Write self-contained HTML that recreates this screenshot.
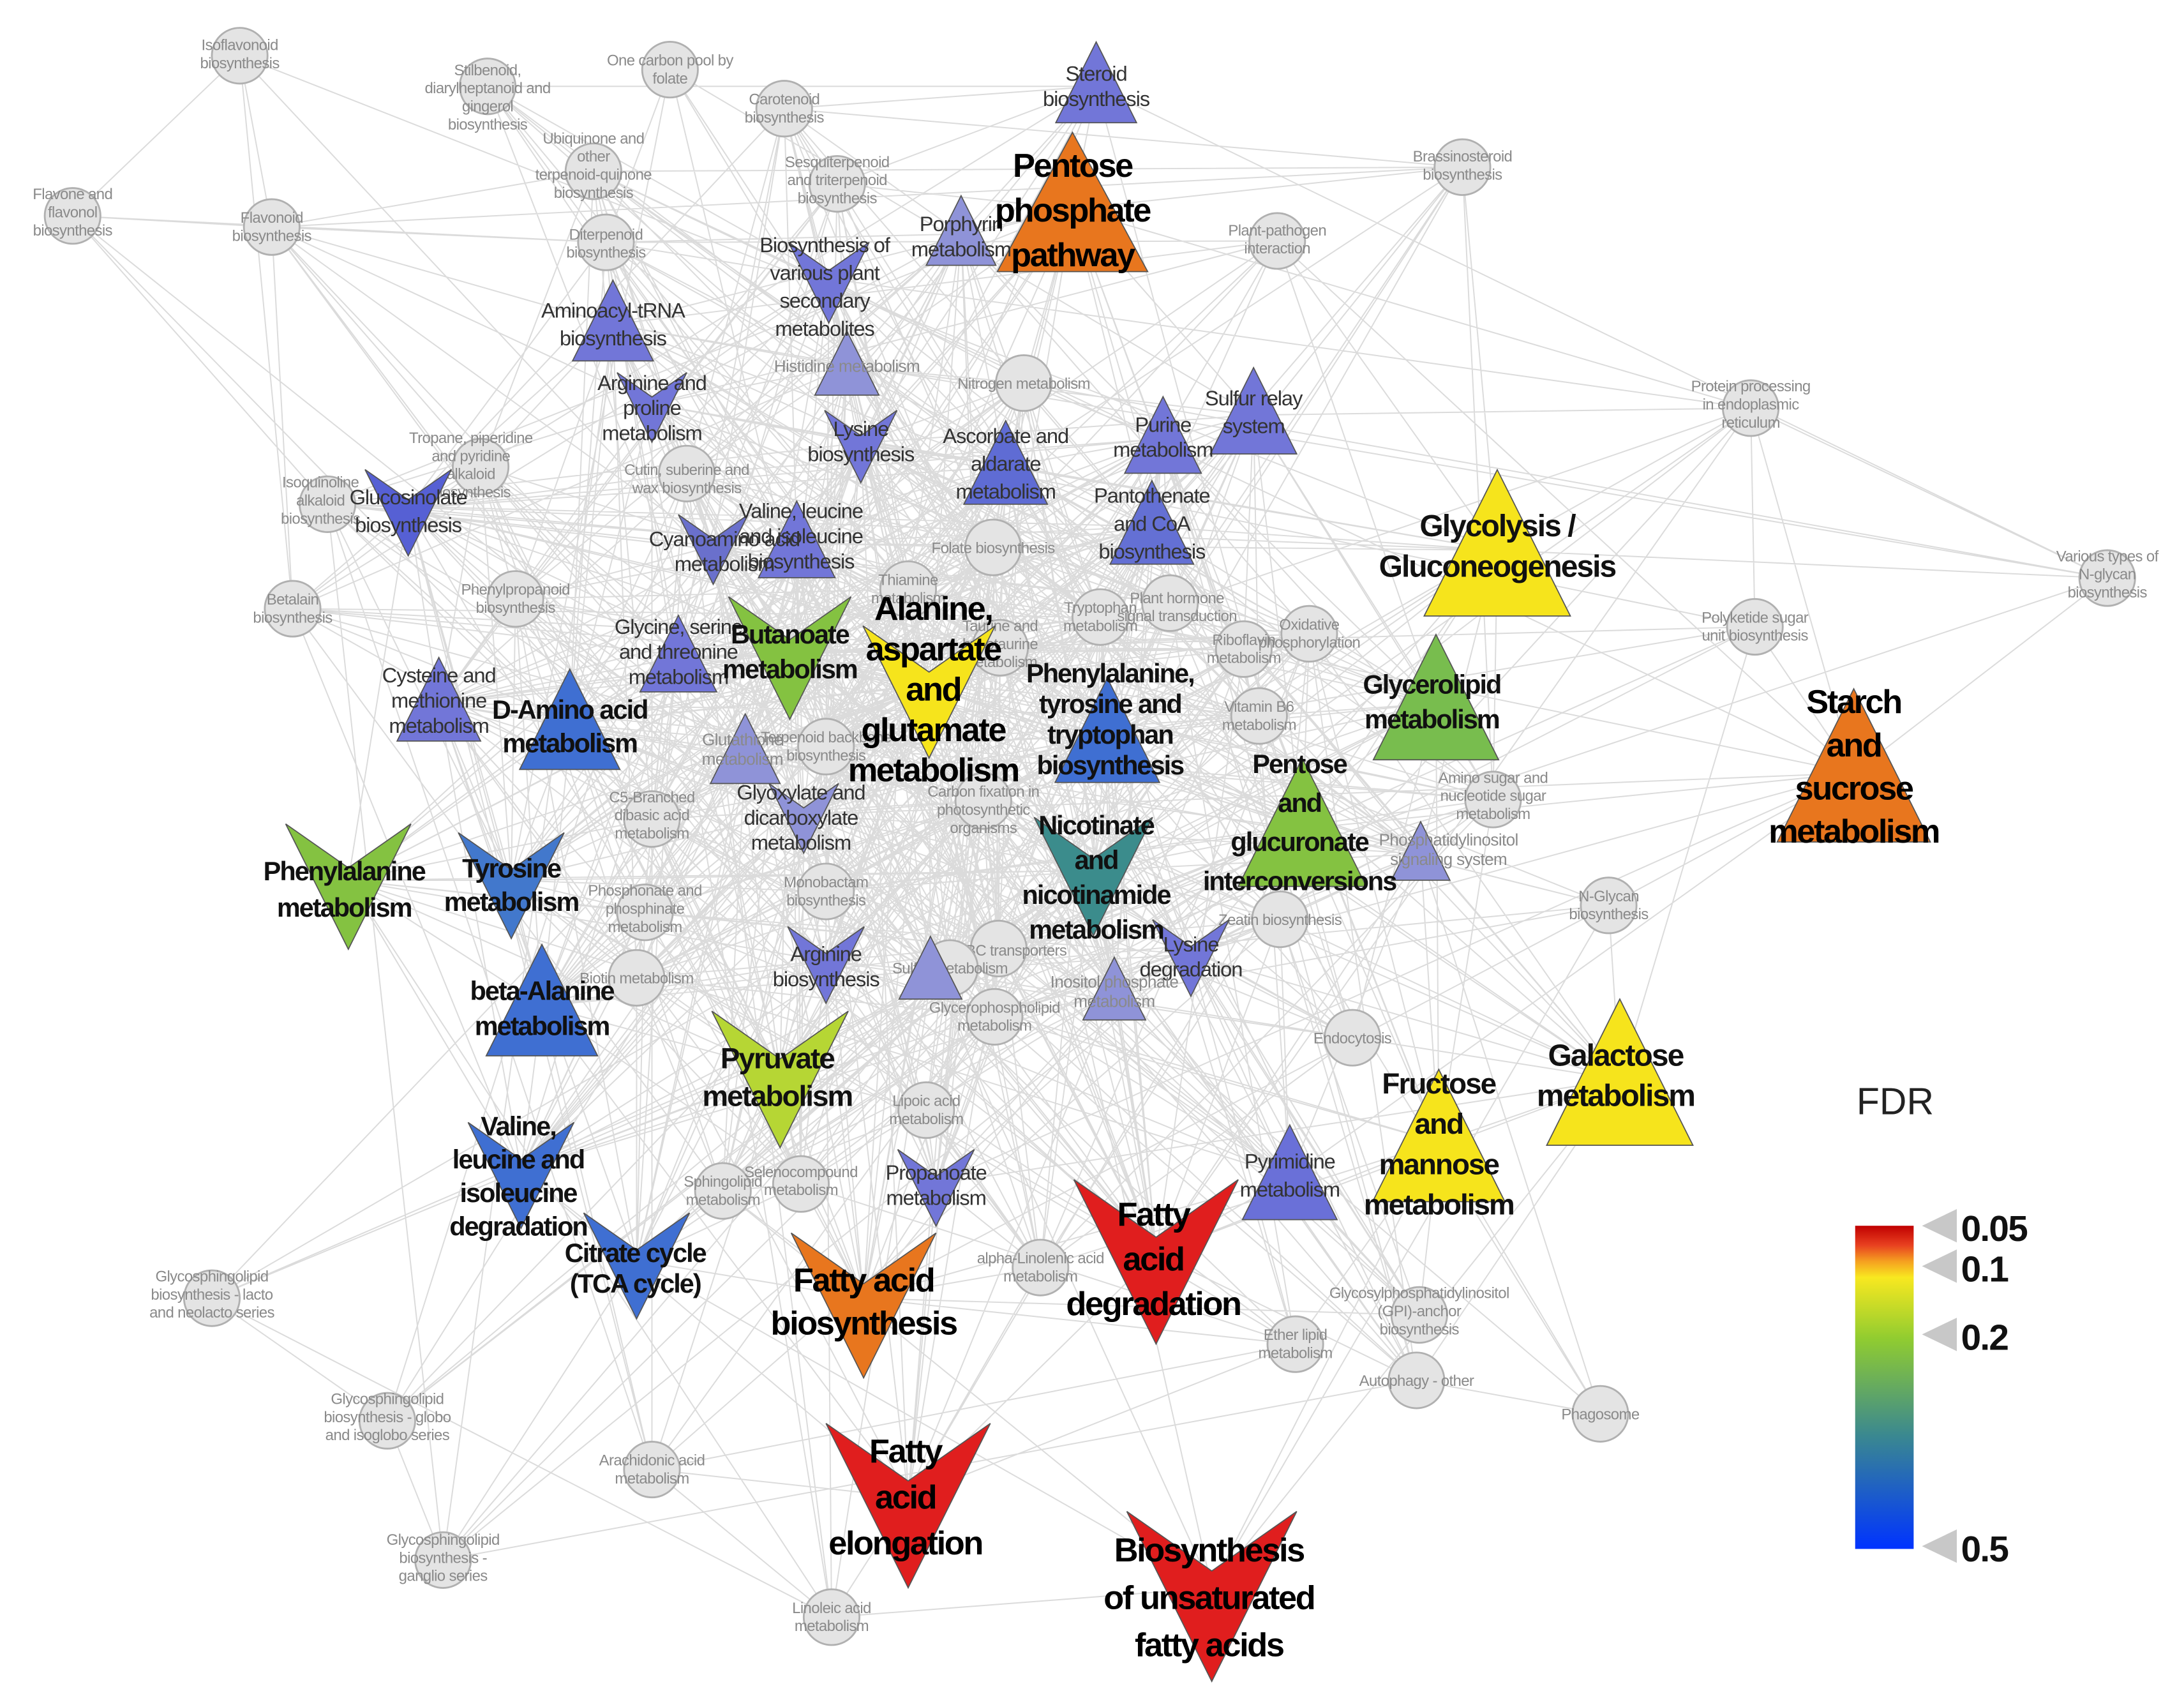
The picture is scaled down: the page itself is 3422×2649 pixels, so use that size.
<!DOCTYPE html>
<html><head><meta charset="utf-8"><style>
html,body{margin:0;padding:0;background:#fff}
svg{display:block}
.c{fill:#e4e4e4;stroke:#b0b0b0;stroke-width:1.3}
.g{font-family:"Liberation Sans Narrow","Liberation Sans",sans-serif;font-size:11px;fill:#8a8a8a;text-anchor:middle;letter-spacing:-0.3px}
.s{font-family:"Liberation Sans Narrow","Liberation Sans",sans-serif;font-size:15px;fill:#333;text-anchor:middle;letter-spacing:-0.5px}
.m{font-family:"Liberation Sans Narrow","Liberation Sans",sans-serif;font-size:19px;font-weight:bold;fill:#111;text-anchor:middle;letter-spacing:-0.9px}
.L{font-family:"Liberation Sans Narrow","Liberation Sans",sans-serif;font-size:24px;font-weight:bold;fill:#000;text-anchor:middle;letter-spacing:-1.1px}
.t{stroke:#555;stroke-width:0.8}
</style></head><body>
<svg width="3422" height="2649" viewBox="0 0 1568 1214" xmlns="http://www.w3.org/2000/svg">
<defs>
<linearGradient id="fdr" x1="0" y1="0" x2="0" y2="1">
<stop offset="0" stop-color="#c00000"/><stop offset="0.06" stop-color="#e84020"/><stop offset="0.11" stop-color="#f5a020"/><stop offset="0.16" stop-color="#f8e820"/><stop offset="0.35" stop-color="#90cc30"/><stop offset="0.65" stop-color="#3a8890"/><stop offset="1" stop-color="#0033ff"/>
</linearGradient>
</defs>
<g id="edges" stroke="#cfcfcf" stroke-width="0.9" stroke-opacity="0.75"></g>
<g id="nodes">
<circle class="c" cx="172" cy="40" r="20"/><text class="g" x="172" y="36"><tspan x="172">Isoflavonoid</tspan><tspan x="172" dy="13">biosynthesis</tspan></text>
<circle class="c" cx="350" cy="62" r="20"/><text class="g" x="350" y="54"><tspan x="350">Stilbenoid,</tspan><tspan x="350" dy="13">diarylheptanoid and</tspan><tspan x="350" dy="13">gingerol</tspan><tspan x="350" dy="13">biosynthesis</tspan></text>
<circle class="c" cx="481" cy="50" r="20"/><text class="g" x="481" y="47"><tspan x="481">One carbon pool by</tspan><tspan x="481" dy="13">folate</tspan></text>
<circle class="c" cx="563" cy="78" r="20"/><text class="g" x="563" y="75"><tspan x="563">Carotenoid</tspan><tspan x="563" dy="13">biosynthesis</tspan></text>
<circle class="c" cx="52" cy="155" r="20"/><text class="g" x="52" y="143"><tspan x="52">Flavone and</tspan><tspan x="52" dy="13">flavonol</tspan><tspan x="52" dy="13">biosynthesis</tspan></text>
<circle class="c" cx="195" cy="163" r="20"/><text class="g" x="195" y="160"><tspan x="195">Flavonoid</tspan><tspan x="195" dy="13">biosynthesis</tspan></text>
<circle class="c" cx="426" cy="123" r="20"/><text class="g" x="426" y="103"><tspan x="426">Ubiquinone and</tspan><tspan x="426" dy="13">other</tspan><tspan x="426" dy="13">terpenoid-quinone</tspan><tspan x="426" dy="13">biosynthesis</tspan></text>
<circle class="c" cx="601" cy="132" r="20"/><text class="g" x="601" y="120"><tspan x="601">Sesquiterpenoid</tspan><tspan x="601" dy="13">and triterpenoid</tspan><tspan x="601" dy="13">biosynthesis</tspan></text>
<circle class="c" cx="435" cy="174" r="20"/><text class="g" x="435" y="172"><tspan x="435">Diterpenoid</tspan><tspan x="435" dy="13">biosynthesis</tspan></text>
<circle class="c" cx="1050" cy="120" r="20"/><text class="g" x="1050" y="116"><tspan x="1050">Brassinosteroid</tspan><tspan x="1050" dy="13">biosynthesis</tspan></text>
<circle class="c" cx="917" cy="173" r="20"/><text class="g" x="917" y="169"><tspan x="917">Plant-pathogen</tspan><tspan x="917" dy="13">interaction</tspan></text>
<circle class="c" cx="735" cy="275" r="20"/><text class="g" x="735" y="279">Nitrogen metabolism</text>
<circle class="c" cx="1257" cy="293" r="20"/><text class="g" x="1257" y="281"><tspan x="1257">Protein processing</tspan><tspan x="1257" dy="13">in endoplasmic</tspan><tspan x="1257" dy="13">reticulum</tspan></text>
<circle class="c" cx="345" cy="335" r="20"/><text class="g" x="338" y="318"><tspan x="338">Tropane, piperidine</tspan><tspan x="338" dy="13">and pyridine</tspan><tspan x="338" dy="13">alkaloid</tspan><tspan x="338" dy="13">biosynthesis</tspan></text>
<circle class="c" cx="493" cy="340" r="20"/><text class="g" x="493" y="341"><tspan x="493">Cutin, suberine and</tspan><tspan x="493" dy="13">wax biosynthesis</tspan></text>
<circle class="c" cx="235" cy="362" r="20"/><text class="g" x="230" y="350"><tspan x="230">Isoquinoline</tspan><tspan x="230" dy="13">alkaloid</tspan><tspan x="230" dy="13">biosynthesis</tspan></text>
<circle class="c" cx="713" cy="393" r="20"/><text class="g" x="713" y="397">Folate biosynthesis</text>
<circle class="c" cx="1513" cy="415" r="20"/><text class="g" x="1513" y="403"><tspan x="1513">Various types of</tspan><tspan x="1513" dy="13">N-glycan</tspan><tspan x="1513" dy="13">biosynthesis</tspan></text>
<circle class="c" cx="210" cy="437" r="20"/><text class="g" x="210" y="434"><tspan x="210">Betalain</tspan><tspan x="210" dy="13">biosynthesis</tspan></text>
<circle class="c" cx="370" cy="430" r="20"/><text class="g" x="370" y="427"><tspan x="370">Phenylpropanoid</tspan><tspan x="370" dy="13">biosynthesis</tspan></text>
<circle class="c" cx="652" cy="423" r="20"/><text class="g" x="652" y="420"><tspan x="652">Thiamine</tspan><tspan x="652" dy="13">metabolism</tspan></text>
<circle class="c" cx="790" cy="443" r="20"/><text class="g" x="790" y="440"><tspan x="790">Tryptophan</tspan><tspan x="790" dy="13">metabolism</tspan></text>
<circle class="c" cx="840" cy="433" r="20"/><text class="g" x="845" y="433"><tspan x="845">Plant hormone</tspan><tspan x="845" dy="13">signal transduction</tspan></text>
<circle class="c" cx="718" cy="465" r="20"/><text class="g" x="718" y="453"><tspan x="718">Taurine and</tspan><tspan x="718" dy="13">hypotaurine</tspan><tspan x="718" dy="13">metabolism</tspan></text>
<circle class="c" cx="893" cy="466" r="20"/><text class="g" x="893" y="463"><tspan x="893">Riboflavin</tspan><tspan x="893" dy="13">metabolism</tspan></text>
<circle class="c" cx="940" cy="455" r="20"/><text class="g" x="940" y="452"><tspan x="940">Oxidative</tspan><tspan x="940" dy="13">phosphorylation</tspan></text>
<circle class="c" cx="1260" cy="450" r="20"/><text class="g" x="1260" y="447"><tspan x="1260">Polyketide sugar</tspan><tspan x="1260" dy="13">unit biosynthesis</tspan></text>
<circle class="c" cx="904" cy="514" r="20"/><text class="g" x="904" y="511"><tspan x="904">Vitamin B6</tspan><tspan x="904" dy="13">metabolism</tspan></text>
<circle class="c" cx="593" cy="536" r="20"/><text class="g" x="593" y="533"><tspan x="593">Terpenoid backbone</tspan><tspan x="593" dy="13">biosynthesis</tspan></text>
<circle class="c" cx="468" cy="588" r="20"/><text class="g" x="468" y="576"><tspan x="468">C5-Branched</tspan><tspan x="468" dy="13">dibasic acid</tspan><tspan x="468" dy="13">metabolism</tspan></text>
<circle class="c" cx="706" cy="575" r="20"/><text class="g" x="706" y="572"><tspan x="706">Carbon fixation in</tspan><tspan x="706" dy="13">photosynthetic</tspan><tspan x="706" dy="13">organisms</tspan></text>
<circle class="c" cx="1072" cy="574" r="20"/><text class="g" x="1072" y="562"><tspan x="1072">Amino sugar and</tspan><tspan x="1072" dy="13">nucleotide sugar</tspan><tspan x="1072" dy="13">metabolism</tspan></text>
<circle class="c" cx="1155" cy="650" r="20"/><text class="g" x="1155" y="647"><tspan x="1155">N-Glycan</tspan><tspan x="1155" dy="13">biosynthesis</tspan></text>
<circle class="c" cx="463" cy="655" r="20"/><text class="g" x="463" y="643"><tspan x="463">Phosphonate and</tspan><tspan x="463" dy="13">phosphinate</tspan><tspan x="463" dy="13">metabolism</tspan></text>
<circle class="c" cx="593" cy="640" r="20"/><text class="g" x="593" y="637"><tspan x="593">Monobactam</tspan><tspan x="593" dy="13">biosynthesis</tspan></text>
<circle class="c" cx="919" cy="660" r="20"/><text class="g" x="919" y="664">Zeatin biosynthesis</text>
<circle class="c" cx="717" cy="681" r="20"/><text class="g" x="726" y="686">ABC transporters</text>
<circle class="c" cx="457" cy="702" r="20"/><text class="g" x="457" y="706">Biotin metabolism</text>
<circle class="c" cx="682" cy="695" r="20"/><text class="g" x="682" y="699">Sulfur metabolism</text>
<circle class="c" cx="714" cy="730" r="20"/><text class="g" x="714" y="727"><tspan x="714">Glycerophospholipid</tspan><tspan x="714" dy="13">metabolism</tspan></text>
<circle class="c" cx="971" cy="745" r="20"/><text class="g" x="971" y="749">Endocytosis</text>
<circle class="c" cx="665" cy="797" r="20"/><text class="g" x="665" y="794"><tspan x="665">Lipoic acid</tspan><tspan x="665" dy="13">metabolism</tspan></text>
<circle class="c" cx="519" cy="855" r="20"/><text class="g" x="519" y="852"><tspan x="519">Sphingolipid</tspan><tspan x="519" dy="13">metabolism</tspan></text>
<circle class="c" cx="575" cy="850" r="20"/><text class="g" x="575" y="845"><tspan x="575">Selenocompound</tspan><tspan x="575" dy="13">metabolism</tspan></text>
<circle class="c" cx="747" cy="910" r="20"/><text class="g" x="747" y="907"><tspan x="747">alpha-Linolenic acid</tspan><tspan x="747" dy="13">metabolism</tspan></text>
<circle class="c" cx="152" cy="932" r="20"/><text class="g" x="152" y="920"><tspan x="152">Glycosphingolipid</tspan><tspan x="152" dy="13">biosynthesis - lacto</tspan><tspan x="152" dy="13">and neolacto series</tspan></text>
<circle class="c" cx="1019" cy="944" r="20"/><text class="g" x="1019" y="932"><tspan x="1019">Glycosylphosphatidylinositol</tspan><tspan x="1019" dy="13">(GPI)-anchor</tspan><tspan x="1019" dy="13">biosynthesis</tspan></text>
<circle class="c" cx="930" cy="965" r="20"/><text class="g" x="930" y="962"><tspan x="930">Ether lipid</tspan><tspan x="930" dy="13">metabolism</tspan></text>
<circle class="c" cx="1017" cy="991" r="20"/><text class="g" x="1017" y="995">Autophagy - other</text>
<circle class="c" cx="1149" cy="1015" r="20"/><text class="g" x="1149" y="1019">Phagosome</text>
<circle class="c" cx="278" cy="1020" r="20"/><text class="g" x="278" y="1008"><tspan x="278">Glycosphingolipid</tspan><tspan x="278" dy="13">biosynthesis - globo</tspan><tspan x="278" dy="13">and isoglobo series</tspan></text>
<circle class="c" cx="468" cy="1055" r="20"/><text class="g" x="468" y="1052"><tspan x="468">Arachidonic acid</tspan><tspan x="468" dy="13">metabolism</tspan></text>
<circle class="c" cx="318" cy="1120" r="20"/><text class="g" x="318" y="1109"><tspan x="318">Glycosphingolipid</tspan><tspan x="318" dy="13">biosynthesis -</tspan><tspan x="318" dy="13">ganglio series</tspan></text>
<circle class="c" cx="597" cy="1161" r="20"/><text class="g" x="597" y="1158"><tspan x="597">Linoleic acid</tspan><tspan x="597" dy="13">metabolism</tspan></text>
</g>
<g id="tris"></g>
<g id="labels">
<text class="s" x="787" y="58"><tspan x="787">Steroid</tspan><tspan x="787" dy="18">biosynthesis</tspan></text>
<text class="s" x="690" y="166"><tspan x="690">Porphyrin</tspan><tspan x="690" dy="18">metabolism</tspan></text>
<text class="s" x="592" y="181"><tspan x="592">Biosynthesis of</tspan><tspan x="592" dy="20">various plant</tspan><tspan x="592" dy="20">secondary</tspan><tspan x="592" dy="20">metabolites</tspan></text>
<text class="s" x="440" y="228"><tspan x="440">Aminoacyl-tRNA</tspan><tspan x="440" dy="20">biosynthesis</tspan></text>
<text class="s" x="468" y="280"><tspan x="468">Arginine and</tspan><tspan x="468" dy="18">proline</tspan><tspan x="468" dy="18">metabolism</tspan></text>
<text class="g" x="608" y="267" style="font-size:12px">Histidine metabolism</text>
<text class="s" x="618" y="313"><tspan x="618">Lysine</tspan><tspan x="618" dy="18">biosynthesis</tspan></text>
<text class="s" x="722" y="318"><tspan x="722">Ascorbate and</tspan><tspan x="722" dy="20">aldarate</tspan><tspan x="722" dy="20">metabolism</tspan></text>
<text class="s" x="835" y="310"><tspan x="835">Purine</tspan><tspan x="835" dy="18">metabolism</tspan></text>
<text class="s" x="900" y="291"><tspan x="900">Sulfur relay</tspan><tspan x="900" dy="20">system</tspan></text>
<text class="s" x="827" y="361"><tspan x="827">Pantothenate</tspan><tspan x="827" dy="20">and CoA</tspan><tspan x="827" dy="20">biosynthesis</tspan></text>
<text class="s" x="293" y="362"><tspan x="293">Glucosinolate</tspan><tspan x="293" dy="20">biosynthesis</tspan></text>
<text class="s" x="575" y="372"><tspan x="575">Valine, leucine</tspan><tspan x="575" dy="18">and isoleucine</tspan><tspan x="575" dy="18">biosynthesis</tspan></text>
<text class="s" x="520" y="392"><tspan x="520">Cyanoamino acid</tspan><tspan x="520" dy="18">metabolism</tspan></text>
<text class="m" x="1075" y="385" style="font-size:22px"><tspan x="1075">Glycolysis /</tspan><tspan x="1075" dy="29">Gluconeogenesis</tspan></text>
<text class="s" x="487" y="455"><tspan x="487">Glycine, serine</tspan><tspan x="487" dy="18">and threonine</tspan><tspan x="487" dy="18">metabolism</tspan></text>
<text class="m" x="567" y="462"><tspan x="567">Butanoate</tspan><tspan x="567" dy="25">metabolism</tspan></text>
<text class="L" x="670" y="445"><tspan x="670">Alanine,</tspan><tspan x="670" dy="29">aspartate</tspan><tspan x="670" dy="29">and</tspan><tspan x="670" dy="29">glutamate</tspan><tspan x="670" dy="29">metabolism</tspan></text>
<text class="m" x="797" y="490"><tspan x="797">Phenylalanine,</tspan><tspan x="797" dy="22">tyrosine and</tspan><tspan x="797" dy="22">tryptophan</tspan><tspan x="797" dy="22">biosynthesis</tspan></text>
<text class="m" x="1028" y="498"><tspan x="1028">Glycerolipid</tspan><tspan x="1028" dy="25">metabolism</tspan></text>
<text class="s" x="315" y="490"><tspan x="315">Cysteine and</tspan><tspan x="315" dy="18">methionine</tspan><tspan x="315" dy="18">metabolism</tspan></text>
<text class="m" x="409" y="516"><tspan x="409">D-Amino acid</tspan><tspan x="409" dy="24">metabolism</tspan></text>
<text class="g" x="533" y="535" style="font-size:12px"><tspan x="533">Glutathione</tspan><tspan x="533" dy="14">metabolism</tspan></text>
<text class="L" x="1331" y="512"><tspan x="1331">Starch</tspan><tspan x="1331" dy="31">and</tspan><tspan x="1331" dy="31">sucrose</tspan><tspan x="1331" dy="31">metabolism</tspan></text>
<text class="s" x="575" y="574"><tspan x="575">Glyoxylate and</tspan><tspan x="575" dy="18">dicarboxylate</tspan><tspan x="575" dy="18">metabolism</tspan></text>
<text class="m" x="933" y="555"><tspan x="933">Pentose</tspan><tspan x="933" dy="28">and</tspan><tspan x="933" dy="28">glucuronate</tspan><tspan x="933" dy="28">interconversions</tspan></text>
<text class="m" x="787" y="599"><tspan x="787">Nicotinate</tspan><tspan x="787" dy="25">and</tspan><tspan x="787" dy="25">nicotinamide</tspan><tspan x="787" dy="25">metabolism</tspan></text>
<text class="g" x="1040" y="607" style="font-size:12px"><tspan x="1040">Phosphatidylinositol</tspan><tspan x="1040" dy="14">signaling system</tspan></text>
<text class="m" x="247" y="632"><tspan x="247">Phenylalanine</tspan><tspan x="247" dy="26">metabolism</tspan></text>
<text class="m" x="367" y="630"><tspan x="367">Tyrosine</tspan><tspan x="367" dy="24">metabolism</tspan></text>
<text class="s" x="593" y="690"><tspan x="593">Arginine</tspan><tspan x="593" dy="18">biosynthesis</tspan></text>
<text class="s" x="855" y="683"><tspan x="855">Lysine</tspan><tspan x="855" dy="18">degradation</tspan></text>
<text class="g" x="800" y="709" style="font-size:12px"><tspan x="800">Inositol phosphate</tspan><tspan x="800" dy="14">metabolism</tspan></text>
<text class="m" x="389" y="718"><tspan x="389">beta-Alanine</tspan><tspan x="389" dy="25">metabolism</tspan></text>
<text class="m" x="558" y="767" style="font-size:21px"><tspan x="558">Pyruvate</tspan><tspan x="558" dy="27">metabolism</tspan></text>
<text class="m" x="1160" y="765" style="font-size:22px"><tspan x="1160">Galactose</tspan><tspan x="1160" dy="29">metabolism</tspan></text>
<text class="m" x="1033" y="785" style="font-size:21px"><tspan x="1033">Fructose</tspan><tspan x="1033" dy="29">and</tspan><tspan x="1033" dy="29">mannose</tspan><tspan x="1033" dy="29">metabolism</tspan></text>
<text class="m" x="372" y="815"><tspan x="372">Valine,</tspan><tspan x="372" dy="24">leucine and</tspan><tspan x="372" dy="24">isoleucine</tspan><tspan x="372" dy="24">degradation</tspan></text>
<text class="s" x="672" y="847"><tspan x="672">Propanoate</tspan><tspan x="672" dy="18">metabolism</tspan></text>
<text class="s" x="926" y="839"><tspan x="926">Pyrimidine</tspan><tspan x="926" dy="20">metabolism</tspan></text>
<text class="L" x="828" y="880"><tspan x="828">Fatty</tspan><tspan x="828" dy="32">acid</tspan><tspan x="828" dy="32">degradation</tspan></text>
<text class="m" x="456" y="906"><tspan x="456">Citrate cycle</tspan><tspan x="456" dy="22">(TCA cycle)</tspan></text>
<text class="L" x="620" y="927"><tspan x="620">Fatty acid</tspan><tspan x="620" dy="31">biosynthesis</tspan></text>
<text class="L" x="650" y="1050"><tspan x="650">Fatty</tspan><tspan x="650" dy="33">acid</tspan><tspan x="650" dy="33">elongation</tspan></text>
<text class="L" x="868" y="1121"><tspan x="868">Biosynthesis</tspan><tspan x="868" dy="34">of unsaturated</tspan><tspan x="868" dy="34">fatty acids</tspan></text>
<text class="L" x="770" y="127"><tspan x="770">Pentose</tspan><tspan x="770" dy="32">phosphate</tspan><tspan x="770" dy="32">pathway</tspan></text>
</g>
<text x="1333" y="800" style="font-family:'Liberation Sans',sans-serif;font-size:27px;fill:#222">FDR</text>
<rect x="1332" y="880" width="42" height="232" fill="url(#fdr)"/>
<g fill="#c8c8c8">
<polygon points="1380,880 1405,868 1405,892"/>
<polygon points="1380,909 1405,897 1405,921"/>
<polygon points="1380,958 1405,946 1405,970"/>
<polygon points="1380,1110 1405,1098 1405,1122"/>
</g>
<g style="font-family:'Liberation Sans Narrow','Liberation Sans',sans-serif;font-size:26px;font-weight:bold;fill:#111;letter-spacing:-0.8px">
<text x="1408" y="891">0.05</text><text x="1408" y="920">0.1</text><text x="1408" y="969">0.2</text><text x="1408" y="1121">0.5</text>
</g>
</svg>
<script>
var P='#7276d8',LP='#8f93d8',B='#3f6fd2',O='#e8761e',Y='#f6e41c',G='#84c241',R='#e01e1e',YG='#b6d634',T='#3b8c8c';
var T3=[[787,62,58,58,1,P],[770,150,108,100,1,O],[690,168,50,50,1,LP],[595,200,58,58,-1,P],[440,233,58,58,1,P],[468,290,50,50,-1,P],[608,263,46,46,1,LP],[618,318,52,52,-1,P],[722,335,60,60,1,'#5f6cd4'],[835,315,55,55,1,P],[900,298,62,62,1,P],[827,378,60,60,1,'#6470d4'],[293,365,62,62,-1,'#5660d4'],[572,390,55,55,1,P],[512,392,50,50,-1,'#6a70cc'],[1075,395,105,105,1,Y],[487,472,55,55,1,P],[567,468,88,88,-1,G],[667,492,95,95,-1,Y],[795,528,75,75,1,B],[1031,505,90,90,1,'#78bd4e'],[315,505,60,60,1,P],[409,520,72,72,1,B],[535,540,50,50,1,LP],[1331,555,110,110,1,O],[577,585,50,50,-1,LP],[935,595,92,92,1,G],[785,625,85,85,-1,T],[1020,613,42,42,1,LP],[250,632,90,90,-1,G],[367,632,76,76,-1,'#4278cc'],[593,690,55,55,-1,P],[668,697,45,45,1,LP],[855,685,55,55,-1,P],[800,712,45,45,1,LP],[389,722,80,80,1,B],[560,770,98,98,-1,YG],[1163,775,105,105,1,Y],[1033,820,95,95,1,Y],[374,840,76,76,-1,B],[672,850,55,55,-1,P],[926,845,68,68,1,'#6a70d8'],[830,900,118,118,-1,R],[457,905,76,76,-1,B],[620,932,104,104,-1,O],[652,1075,118,118,-1,R],[870,1140,122,122,-1,R]];
var ns='http://www.w3.org/2000/svg',tg=document.getElementById('tris');
var pts=[];
T3.forEach(function(t){var x=t[0],y=t[1],w=t[2],h=t[3],p;
 if(t[4]>0)p=[[x,y-0.55*h],[x-w/2,y+0.45*h],[x+w/2,y+0.45*h]];
 else p=[[x-w/2,y-0.45*h],[x,y-0.1*h],[x+w/2,y-0.45*h],[x,y+0.55*h]];
 var e=document.createElementNS(ns,'polygon');e.setAttribute('points',p.map(function(q){return q.join(',')}).join(' '));
 e.setAttribute('fill',t[5]);e.setAttribute('class','t');tg.appendChild(e);pts.push([x,y,w]);});
document.querySelectorAll('#nodes circle').forEach(function(c){pts.push([+c.getAttribute('cx'),+c.getAttribute('cy'),30]);});
var s=12345;function rnd(){s=(s*1103515245+12345)%2147483648;return s/2147483648;}
var eg=document.getElementById('edges'),d='';
for(var i=0;i<pts.length;i++)for(var j=i+1;j<pts.length;j++){
 var a=pts[i],b=pts[j],dx=a[0]-b[0],dy=a[1]-b[1],dist=Math.sqrt(dx*dx+dy*dy);
 var cen=Math.sqrt(Math.pow((a[0]+b[0])/2-660,2)+Math.pow((a[1]+b[1])/2-500,2));
 var p=1.25*Math.exp(-dist/280)*Math.exp(-cen/420)*(0.5+(a[2]+b[2])/110);
 if(rnd()<p)d+='M'+a[0]+' '+a[1]+'L'+b[0]+' '+b[1];}
var extra=[[1513,415,1257,293],[1513,415,1075,395],[1513,415,1331,555],[1257,293,1075,395],[1257,293,1331,555],[1257,293,900,298],[52,155,195,163],[52,155,172,40],[172,40,195,163],[195,163,440,233],[195,163,435,174],[1050,120,770,150],[1050,120,1075,395],[152,932,278,1020],[278,1020,318,1120],[152,932,374,840],[318,1120,457,905],[597,1161,870,1140],[597,1161,652,1075],[468,1055,652,1075],[1149,1015,1017,991],[1149,1015,1033,820],[1155,650,1331,555],[1155,650,1163,775]];
extra.forEach(function(e){d+='M'+e[0]+' '+e[1]+'L'+e[2]+' '+e[3];});
var pa=document.createElementNS(ns,'path');pa.setAttribute('d',d);pa.setAttribute('fill','none');eg.appendChild(pa);
</script>
</body></html>
